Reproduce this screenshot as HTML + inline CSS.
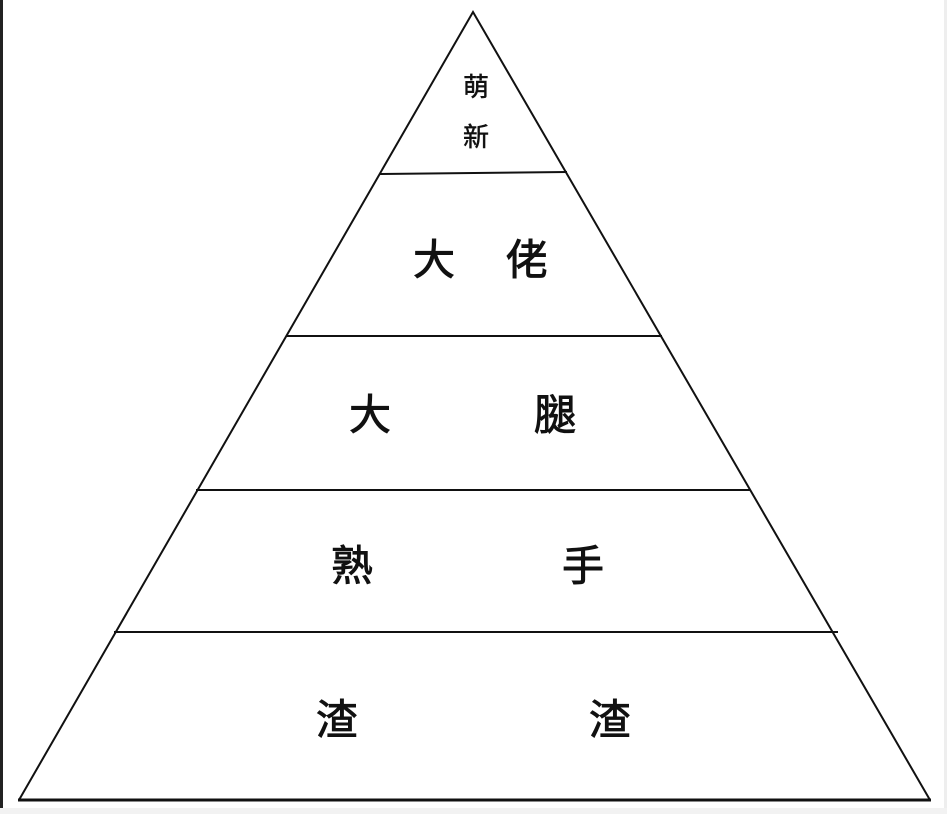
<!DOCTYPE html>
<html><head><meta charset="utf-8"><style>
html,body{margin:0;padding:0;background:#fff;}
svg{display:block;}
text{font-family:"Liberation Sans","Noto Sans CJK TC","Noto Sans CJK SC",sans-serif;fill:#111;stroke:#111;stroke-width:0.9;}
</style></head><body>
<svg width="947" height="814" viewBox="0 0 947 814">
<rect width="947" height="814" fill="#fff"/>
<rect x="0" y="0" width="3" height="814" fill="#222"/>
<rect x="944" y="0" width="3" height="814" fill="#eee"/>
<rect x="0" y="808" width="947" height="6" fill="#f2f2f2"/>
<g stroke="#111" fill="none">
<polyline points="19,800 473,12 930,800" stroke-width="2"/>
<line x1="18" y1="800" x2="931" y2="800" stroke-width="3"/>
<line x1="380" y1="174" x2="567" y2="172" stroke-width="2"/>
<line x1="286" y1="336" x2="662" y2="336" stroke-width="2"/>
<line x1="196" y1="490" x2="750" y2="490" stroke-width="2"/>
<line x1="114" y1="632" x2="838" y2="632" stroke-width="2"/>
</g>
<g text-anchor="middle" dominant-baseline="central">
<text x="476" y="87" font-size="26" style="stroke-width:0.5">萌</text>
<text x="476" y="137" font-size="26" style="stroke-width:0.5">新</text>
<text x="434" y="260" font-size="42">大</text>
<text x="527" y="260" font-size="42">佬</text>
<text x="370" y="415" font-size="42">大</text>
<text x="555" y="415" font-size="42">腿</text>
<text x="352" y="566" font-size="42">熟</text>
<text x="583" y="566" font-size="42">手</text>
<text x="337" y="720" font-size="42">渣</text>
<text x="610" y="720" font-size="42">渣</text>
</g>
</svg>
</body></html>
